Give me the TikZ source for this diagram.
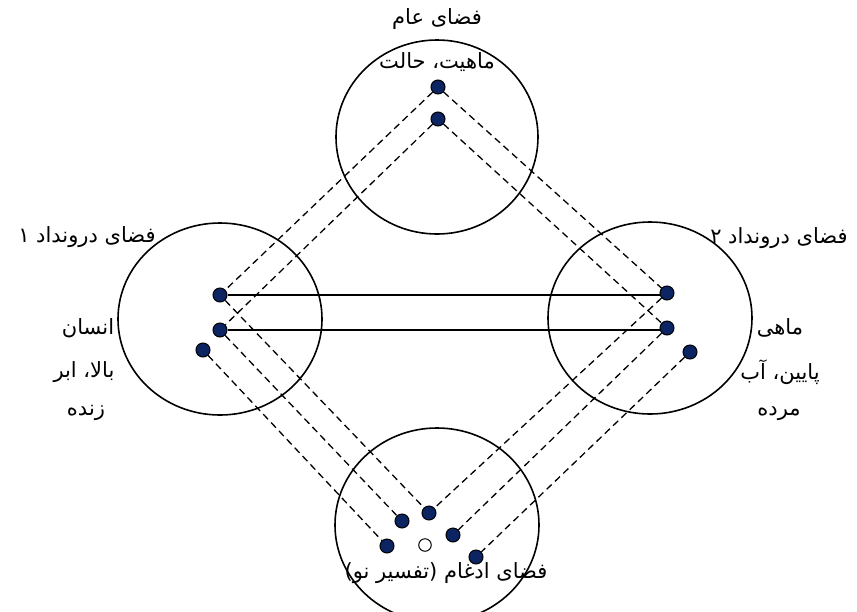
\documentclass[tikz,border=0pt]{standalone}
\usepackage{fontspec}
\newfontfamily\arabicfont[Script=Arabic]{DejaVu Sans}
\TeXXeTstate=1
\definecolor{dotblue}{RGB}{12,36,98}

\begin{document}
\begin{tikzpicture}[x=1pt,y=-1pt,
      space/.style={line width=1.6pt},
      dot/.style={draw, circle, fill=dotblue, line width=1pt, inner sep=0pt, minimum size=14pt},
      hole/.style={draw, circle, fill=white, line width=1pt, inner sep=0pt, minimum size=12.5pt},
      proj/.style={dash pattern=on 7pt off 4.5pt, line width=1.3pt},
      link/.style={line width=1.5pt},
      label/.style={font=\arabicfont\fontsize{21}{24}\selectfont, inner sep=1pt}]
    \useasboundingbox (0,0) rectangle (857,611);

    % the four spaces
    \draw[space] (437,137) ellipse [x radius=101pt, y radius=97pt];
    \draw[space] (220,319) ellipse [x radius=102pt, y radius=96pt];
    \draw[space] (650,318) ellipse [x radius=102pt, y radius=96pt];
    \draw[space] (437,525) ellipse [x radius=102pt, y radius=97pt];

    % elements
    \node[dot] (t1) at (438,87) {};
    \node[dot] (t2) at (438,119) {};
    \node[dot] (l1) at (220,295) {};
    \node[dot] (l2) at (220,330) {};
    \node[dot] (l3) at (203,350) {};
    \node[dot] (r1) at (667,293) {};
    \node[dot] (r2) at (667,328) {};
    \node[dot] (r3) at (690,352) {};
    \node[dot] (b1) at (429,513) {};
    \node[dot] (b2) at (402,521) {};
    \node[dot] (b3) at (453,535) {};
    \node[dot] (b4) at (387,546) {};
    \node[dot] (b5) at (476,557) {};
    \node[hole] (b0) at (425,545) {};

    % cross-space mapping
    \draw[link] (l1) -- (l1 -| r1.west);
    \draw[link] (l2) -- (l2 -| r2.west);

    % projections
    \draw[proj] (t1) -- (l1);
    \draw[proj] (t2) -- (l2);
    \draw[proj] (t1) -- (r1);
    \draw[proj] (t2) -- (r2);
    \draw[proj] (l1) -- (b1);
    \draw[proj] (l2) -- (b2);
    \draw[proj] (l3) -- (b4);
    \draw[proj] (r1) -- (b1);
    \draw[proj] (r2) -- (b3);
    \draw[proj] (r3) -- (b5);

    % labels
    \node[label] (generic) at (437,19) {\beginR فضای عام\endR};
    \node[label] (genericA) at (437,62) {\beginR ماهیت، حالت\endR};
    \node[label] (input1) at (87,237) {\beginR فضای درونداد ۱\endR};
    \node[label] (input1A) at (88,328) {\beginR انسان\endR};
    \node[label] (input1B) at (84,372) {\beginR بالا، ابر\endR};
    \node[label] (input1C) at (86,413) {\beginR زنده\endR};
    \node[label] (input2) at (779,238) {\beginR فضای درونداد ۲\endR};
    \node[label] (input2A) at (780,328) {\beginR ماهی\endR};
    \node[label] (input2B) at (780,372) {\beginR پایین، آب\endR};
    \node[label] (input2C) at (779,414) {\beginR مرده\endR};
    \node[label] (blend) at (446,573) {\beginR فضای ادغام (تفسیر نو)\endR};
\end{tikzpicture}
\end{document}
